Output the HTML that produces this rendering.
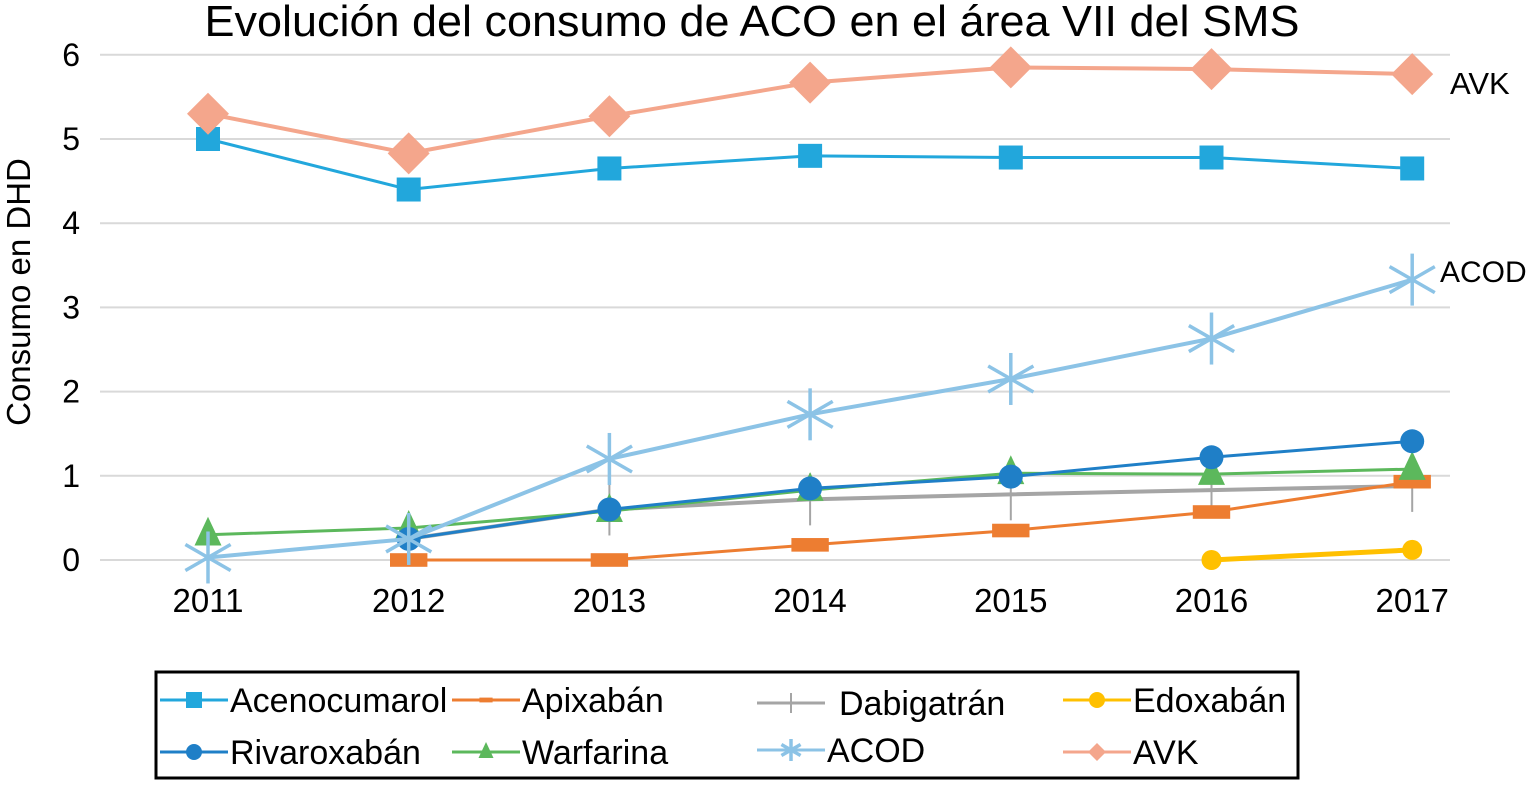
<!DOCTYPE html>
<html><head><meta charset="utf-8"><style>
body{margin:0;background:#fff;width:1536px;height:781px;overflow:hidden;font-family:"Liberation Sans",sans-serif}
</style></head><body>
<svg id="c" width="1536" height="781" xmlns="http://www.w3.org/2000/svg">
<text x="752" y="36" font-size="44" text-anchor="middle" textLength="1095" lengthAdjust="spacingAndGlyphs">Evolución del consumo de ACO en el área VII del SMS</text>
<text transform="translate(30,292) rotate(-90)" font-size="33" text-anchor="middle">Consumo en DHD</text>
<g id="grid"></g><g id="series"></g>
<text x="1450" y="94" font-size="31">AVK</text>
<text x="1440" y="282" font-size="30">ACOD</text>
<rect x="156" y="672" width="1142" height="106" fill="none" stroke="#000" stroke-width="3"/>
<g id="legend"></g>
</svg>
<script>
const years=[2011,2012,2013,2014,2015,2016,2017];
const yTicks=[0,1,2,3,4,5,6];
const acenocumarol=[5.0,4.4,4.65,4.8,4.78,4.78,4.65];
const apixaban=[null,0.0,0.0,0.18,0.35,0.57,0.93];
const dabigatran=[null,0.25,0.6,0.72,0.78,0.83,0.88];
const edoxaban=[null,null,null,null,null,0.0,0.12];
const rivaroxaban=[null,0.25,0.6,0.85,0.99,1.22,1.41];
const warfarina=[0.3,0.38,0.58,0.83,1.03,1.02,1.08];
const acod=[0.03,0.25,1.2,1.73,2.15,2.63,3.33];
const avk=[5.3,4.83,5.27,5.67,5.85,5.83,5.77];
const NS='http://www.w3.org/2000/svg';
const X=i=>208+i*200.7, Y=v=>560-v*84.2;
function mk(t,a,p){const e=document.createElementNS(NS,t);for(const k in a)e.setAttribute(k,a[k]);p.appendChild(e);return e;}
const grid=document.getElementById('grid');
yTicks.forEach(t=>{
 const l=mk('line',{x1:100,x2:1450,y1:Y(t),y2:Y(t),stroke:'#d9d9d9','stroke-width':2},grid);
 
 
 const tx=mk('text',{x:80,y:Y(t)+11,'font-size':32,'text-anchor':'end'},grid);tx.textContent=t;
 
 
});
years.forEach((y,i)=>{const tx=mk('text',{x:X(i),y:612,'font-size':33,'text-anchor':'middle'},grid);tx.textContent=y;
 
 });
function marker(g,type,x,y,c,s){
 if(type==='square')mk('rect',{x:x-s,y:y-s,width:2*s,height:2*s,fill:c},g);
 else if(type==='dash')mk('rect',{x:x-s*1.1,y:y-s*0.4,width:s*2.2,height:s*0.8,fill:c},g);
 else if(type==='plus'){mk('line',{x1:x,x2:x,y1:y-s,y2:y+s,stroke:c,'stroke-width':2},g);}
 else if(type==='circle')mk('circle',{cx:x,cy:y,r:s,fill:c},g);
 else if(type==='tri')mk('polygon',{points:`${x},${y-s} ${x-s*0.75},${y+s*0.6} ${x+s*0.75},${y+s*0.6}`,fill:c},g);
 else if(type==='star'){[[0,1],[0.87,0.5],[0.87,-0.5]].forEach(([a,b])=>mk('line',{x1:x-a*s,y1:y-b*s,x2:x+a*s,y2:y+b*s,stroke:c,'stroke-width':3.5},g));}
 else if(type==='diamond')mk('polygon',{points:`${x},${y-s} ${x+s},${y} ${x},${y+s} ${x-s},${y}`,fill:c},g);
}
const series=[
 ['dabigatran',dabigatran,'#a5a5a5','plus',26,4],
 ['apixaban',apixaban,'#ed7d31','dash',17,3],
 ['edoxaban',edoxaban,'#ffc000','circle',10,5],
 ['warfarina',warfarina,'#5cb85c','tri',18,3],
 ['rivaroxaban',rivaroxaban,'#1f7fc7','circle',12,3],
 ['acenocumarol',acenocumarol,'#22a7dc','square',12,3],
 ['acod',acod,'#8cc3e6','star',26,4],
 ['avk',avk,'#f4a68c','diamond',21,4]];
const sg=document.getElementById('series');
series.forEach(([n,d,c,m,s,w])=>{
 const g=mk('g',{},sg);
 
 
 const pts=d.map((v,i)=>v==null?null:[X(i),Y(v)]).filter(p=>p);
 mk('polyline',{points:pts.map(p=>p.join(',')).join(' '),fill:'none',stroke:c,'stroke-width':w},g);
 pts.forEach(p=>marker(g,m,p[0],p[1],c,s));
});
const lg=document.getElementById('legend');
const leg=[['Acenocumarol','#22a7dc','square',160,700,8],['Apixabán','#ed7d31','dash',452,700,6],['Dabigatrán','#a5a5a5','plus',757,703,10],['Edoxabán','#ffc000','circle',1063,700,8],
['Rivaroxabán','#1f7fc7','circle',160,752,8],['Warfarina','#5cb85c','tri',452,752,10],['ACOD','#8cc3e6','star',757,750,11],['AVK','#f4a68c','diamond',1063,752,9]];
leg.forEach(([t,c,m,x,y,s])=>{
 const g=mk('g',{},lg);
 
 
 mk('line',{x1:x,x2:x+68,y1:y,y2:y,stroke:c,'stroke-width':3},g);
 marker(g,m,x+34,y,c,s);
 const tx=mk('text',{x:x+70+(t==='Dabigatrán'?12:0),y:y+12,'font-size':34},g);tx.textContent=t;
});
</script>
</body></html>
